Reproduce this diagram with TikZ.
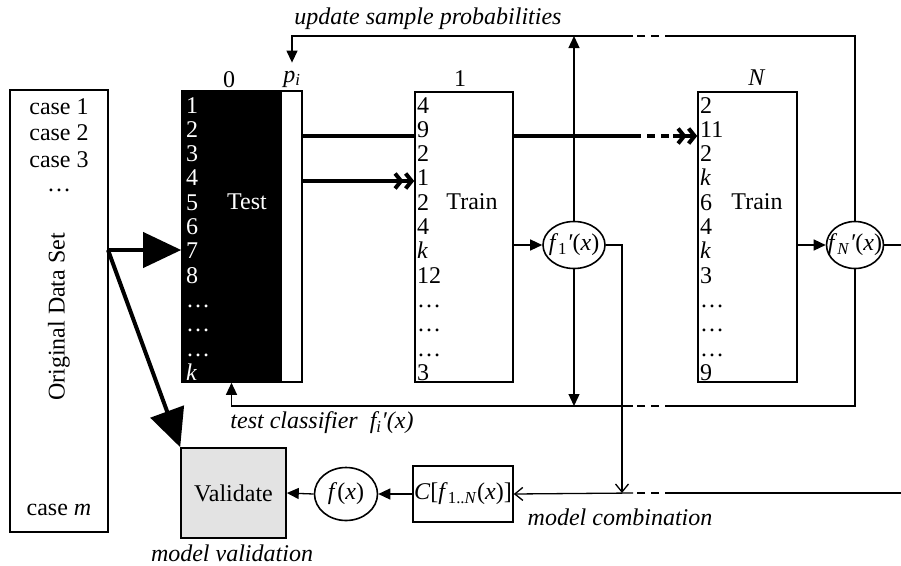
\documentclass[tikz,border=0pt]{standalone}
\usepackage{fontspec}
\setmainfont{Liberation Serif}
\usepackage{tikz}
\usetikzlibrary{arrows.meta,shapes.geometric}
\tikzset{
  every node/.style={font=\fontsize{24}{25}\selectfont, inner sep=0pt},
  box/.style={draw, line width=1.6pt, rectangle},
  fbox/.style={draw, line width=1.6pt, ellipse},
  conn/.style={line width=1.3pt},
  solidtip/.style={-{Triangle[length=12pt,width=11pt]}},
  opentip/.style={-{Straight Barb[length=8pt,width=13pt]}},
  fatline/.style={line width=4pt},
  bigtip/.style={-{Triangle[length=38pt,width=35pt]}},
  chevtip/.style={-{Straight Barb[length=6pt,width=15pt] Straight Barb[length=6pt,width=15pt]}},
  dashgap/.style={dash pattern=on 8pt off 6pt},
  lbl/.style={font=\fontsize{24}{25}\selectfont\itshape},
}

\begin{document}
\begin{tikzpicture}[x=1pt,y=-1pt]
    \useasboundingbox (0,0) rectangle (901,565);
    % data set
    \node[box, minimum width=98pt, minimum height=442pt] (data) at (59,311) {};
    \node (c1) at (59,107) {case 1};
    \node (c2) at (59,133) {case 2};
    \node (c3) at (59,160) {case 3};
    \node (cdots) at (59,190) {\dots};
    \node[rotate=90] (dset) at (59,317) {Original Data Set};
    \node (cm) at (59,510) {case \textit{m}};
    % blocks
    \node[box, fill=black, minimum width=99pt, minimum height=291pt] (test) at (231.5,236.5) {};
    \node[box, minimum width=21pt, minimum height=291pt] (strip) at (291.5,236.5) {};
    \node[box, minimum width=98pt, minimum height=290pt] (train1) at (464,237) {};
    \node[box, minimum width=99pt, minimum height=290pt] (trainN) at (747.5,237) {};
    \node (l0) at (229,80) {0};
    \node (plabel) at (292,79) {\textit{p}\textsubscript{\textit{i}}};
    \node (l1) at (460,79) {1};
    \node (lN) at (757,78) {\textit{N}};
    \node[white] (tst) at (247,202) {Test};
    \node (tr1) at (472,202) {Train};
    \node (trN) at (757,202) {Train};
    \foreach \v [count=\i from 0] in {1,2,3,4,5,6,7,8,\dots,\dots,\dots,\textit{k}}
      \node[white, anchor=base west] (t\i) at (186,113+24.3*\i) {\v};
    \foreach \v [count=\i from 0] in {4,9,2,1,2,4,\textit{k},12,\dots,\dots,\dots,3}
      \node[anchor=base west] (a\i) at (417,113+24.3*\i) {\v};
    \foreach \v [count=\i from 0] in {2,11,2,\textit{k},6,4,\textit{k},3,\dots,\dots,\dots,9}
      \node[anchor=base west] (b\i) at (700,113+24.3*\i) {\v};
    % classifiers
    \node[fbox, minimum width=62pt, minimum height=47pt,
      label=center:{\textit{f}\textsubscript{1}\textit{′}(\textit{x})}] (f1) at (574,245) {};
    \node[fbox, minimum width=57pt, minimum height=47pt,
      label=center:{\textit{f}\textsubscript{\textit{N}}\textit{′}(\textit{x})}] (fN) at (855,245) {};
    \node[box, minimum width=100pt, minimum height=56pt] (comb) at (463,494)
      {\textit{C}[\textit{f}\textsubscript{1..\textit{N}}(\textit{x})]};
    \node[fbox, minimum width=63pt, minimum height=53pt,
      label=center:{\textit{f}(\textit{x})}] (fx) at (346,494) {};
    \node[box, fill=gray!22, minimum width=105pt, minimum height=90pt] (valid) at (233.5,493) {Validate};
    % labels
    \node[lbl] (upd) at (428,19) {update sample probabilities};
    \node[lbl] (tcls) at (322,423) {test classifier\ \ f\textsubscript{i}′(x)};
    \node[lbl] (mcomb) at (620,517) {model combination};
    \node[lbl] (mval) at (232,553) {model validation};

    \coordinate (split) at (108,250);
    \coordinate (r2) at (0,136);
    \coordinate (r4) at (0,181);
    \coordinate (gapL) at (633,0);
    \coordinate (gapR) at (673,0);
    \coordinate (redge) at (901,0);
    \coordinate (topl) at (0,36);
    \coordinate (tcl) at (0,406);
    \coordinate (botl) at (0,493);
    \coordinate (combx) at (622,0);

    \draw[fatline, bigtip] (split) -- (split -| test.west);
    \draw[fatline, bigtip] (split) -- (valid.north west);
    \draw[fatline] (r2 -| strip.east) -- (r2 -| train1.west);
    \draw[fatline, chevtip] (r4 -| strip.east) -- (r4 -| train1.west);
    \draw[fatline] (r2 -| train1.east) -- (r2 -| gapL);
    \draw[fatline, dashgap] (r2 -| gapL) -- (r2 -| gapR);
    \draw[fatline, chevtip] (r2 -| gapR) -- (r2 -| trainN.west);

    \draw[conn, solidtip] (f1 -| train1.east) -- (f1.west);
    \draw[conn, solidtip] (fN -| trainN.east) -- (fN.west);
    \draw[conn] (fN.east) -- (fN -| redge);
    \draw[conn, opentip] (f1.east) -| (botl -| combx);
    \draw[conn, solidtip] (f1.north) -- (f1 |- topl);
    \draw[conn, solidtip] (f1.south) -- (f1 |- tcl);
    % update sample probabilities
    \draw[conn] (fN.north) |- (topl -| gapR);
    \draw[conn, dashgap] (topl -| gapR) -- (topl -| gapL);
    \draw[conn, solidtip, shorten >=8pt] (topl -| gapL) -| (plabel.north);
    % test classifier
    \draw[conn] (fN.south) |- (tcl -| gapR);
    \draw[conn, dashgap] (tcl -| gapR) -- (tcl -| gapL);
    \draw[conn, solidtip] (tcl -| gapL) -| (test.south);
    % combination
    \draw[conn] (botl -| redge) -- (botl -| gapR);
    \draw[conn, dashgap] (botl -| gapR) -- (botl -| gapL);
    \draw[conn, opentip] (botl -| gapL) -- (comb.east);
    \draw[conn, solidtip] (comb.west) -- (fx.east);
    \draw[conn, solidtip] (fx.west) -- (valid.east);
\end{tikzpicture}
\end{document}
